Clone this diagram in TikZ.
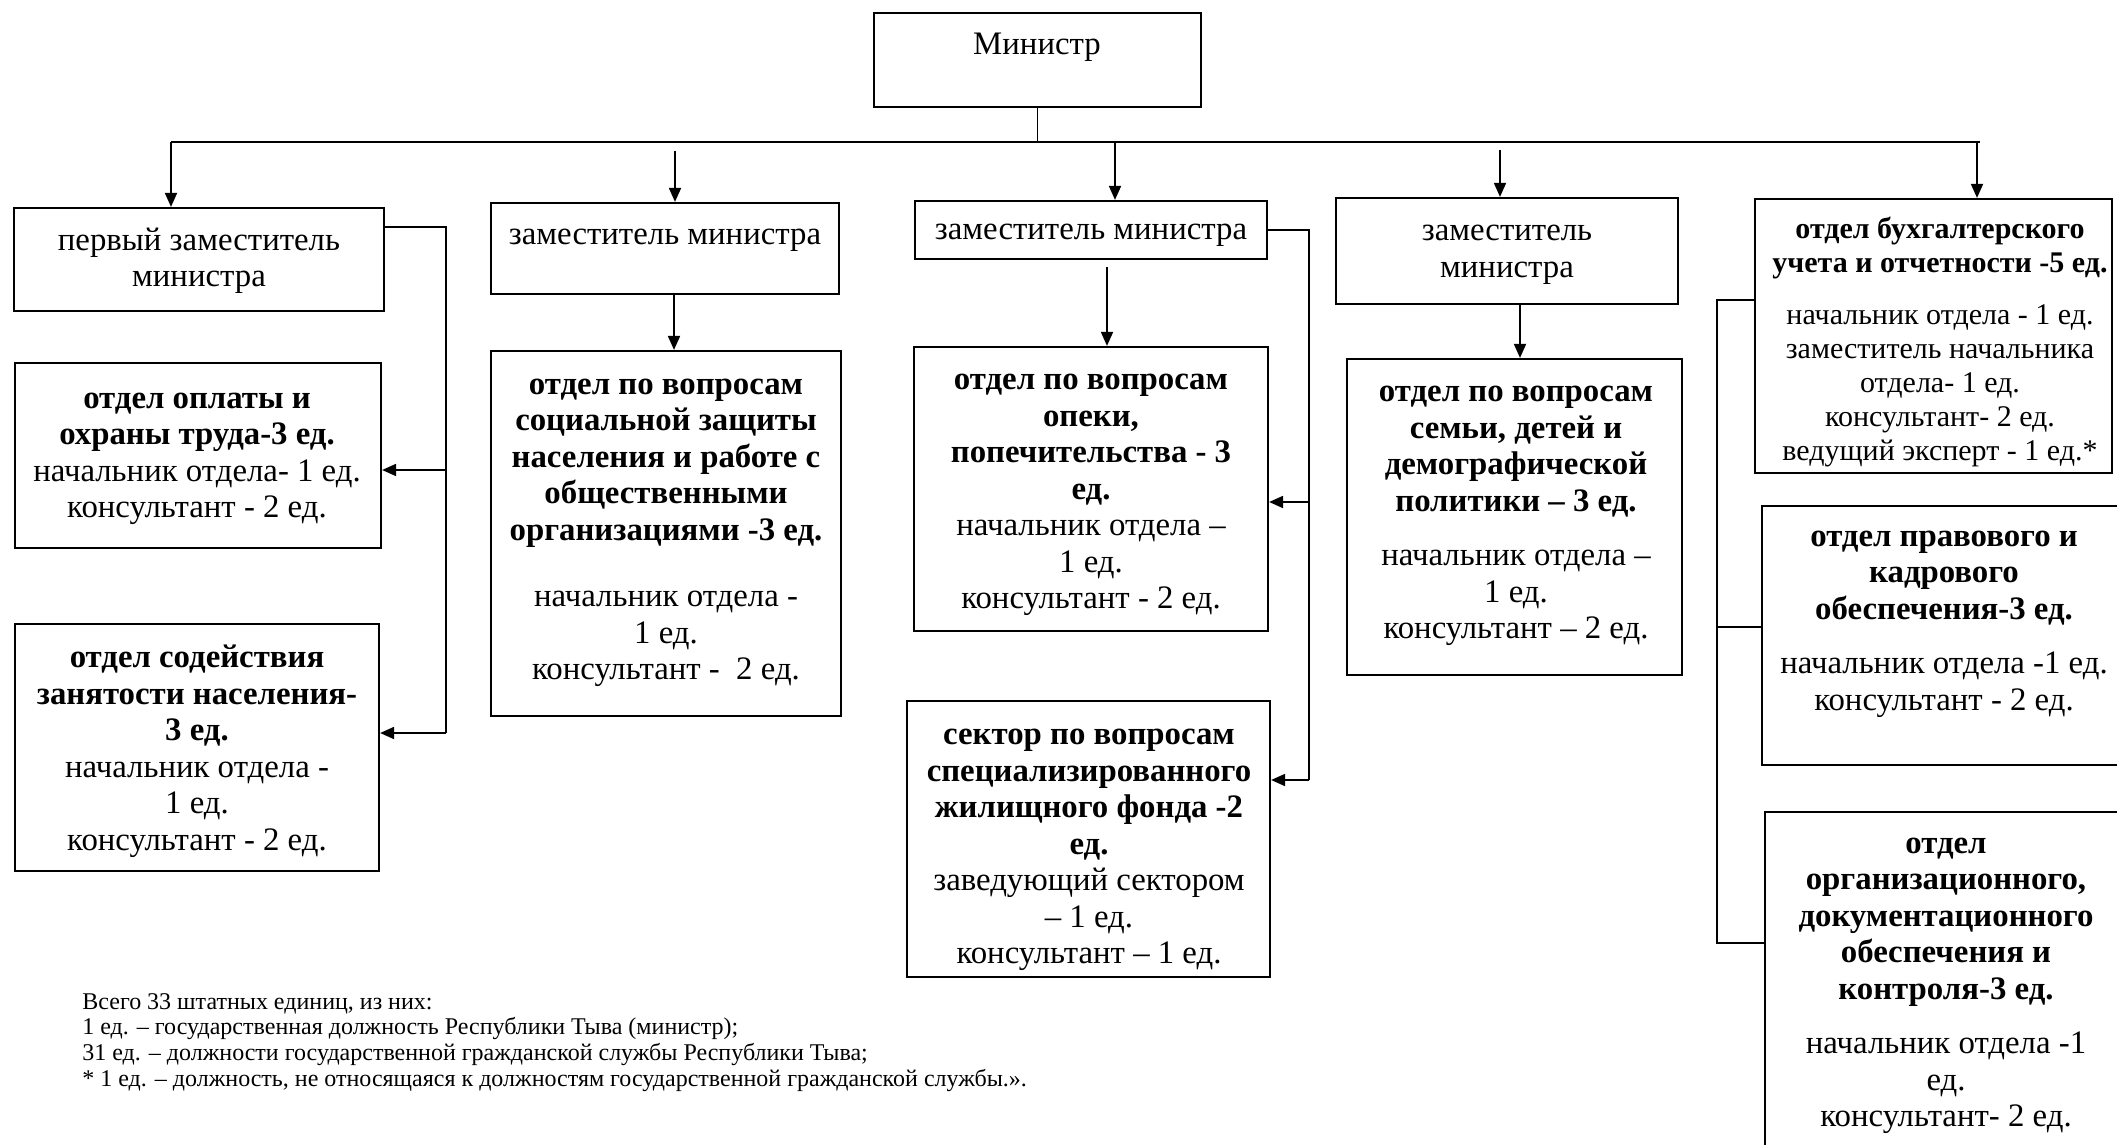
\documentclass[tikz,border=0pt]{standalone}
\usepackage{fontspec}
\setmainfont{Liberation Serif}
\usetikzlibrary{arrows.meta,fit}
\tikzset{
 box/.style={draw, line width=1.1pt, inner sep=0pt, rectangle},
 lt/.style={font=\fontsize{16.4pt}{18.25pt}\selectfont, align=center, inner sep=0pt},
 rt/.style={font=\fontsize{15pt}{17pt}\selectfont, align=center, inner sep=0pt},
 fn/.style={font=\fontsize{12pt}{12.8pt}\selectfont, anchor=base west, inner sep=0pt},
 conn/.style={line width=0.9pt},
 arr/.style={conn, -{Triangle[length=7pt,width=6pt]}},
}
\begin{document}
\begin{tikzpicture}[x=0.5pt,y=-0.5pt]
\useasboundingbox (0,0) rectangle (2117,1145);
% boxes
\node[box, fit={(874,13) (1201,107)}] (min) {};
\node[box, fit={(14,208) (384,311)}] (b1) {};
\node[box, fit={(491,203) (839,294)}] (b2) {};
\node[box, fit={(915,201) (1267,259)}] (b3) {};
\node[box, fit={(1336,198) (1678,304)}] (b4) {};
\node[box, fit={(1755,199) (2112,473)}] (b5) {};
\node[box, fit={(15,363) (381,548)}] (b6) {};
\node[box, fit={(15,624) (379,871)}] (b7) {};
\node[box, fit={(491,351) (841,716)}] (b8) {};
\node[box, fit={(914,347) (1268,631)}] (b9) {};
\node[box, fit={(907,701) (1270,977)}] (b10) {};
\node[box, fit={(1347,359) (1682,675)}] (b11) {};
\node[box, fit={(1762,506) (2127,765)}] (b12) {};
\node[box, fit={(1765,812) (2127,1160)}] (b13) {};
% texts
\node[lt] (minT) at (1037,47) {Министр};
\node[lt] (b1t) at (199,261) {первый заместитель\\министра};
\node[lt] (b2t) at (665,240) {заместитель министра};
\node[lt] (b3t) at (1091,235) {заместитель министра};
\node[lt] (b4t) at (1507,255) {заместитель\\министра};
\node[rt] (b5t) at (1940,342) {\textbf{отдел бухгалтерского}\\\textbf{учета и отчетности -5 ед.}\\[9pt]начальник отдела - 1 ед.\\заместитель начальника\\отдела- 1 ед.\\консультант- 2 ед.\\ведущий эксперт - 1 ед.*};
\node[lt] (b6t) at (197,459) {\textbf{отдел оплаты и}\\\textbf{охраны труда-3 ед.}\\начальник отдела- 1 ед.\\консультант - 2 ед.};
\node[lt] (b7t) at (197,751) {\textbf{отдел содействия}\\\textbf{занятости населения-}\\\textbf{3 ед.}\\начальник отдела -\\1 ед.\\консультант - 2 ед.};
\node[lt] (b8t) at (666,533) {\textbf{отдел по вопросам}\\\textbf{социальной защиты}\\\textbf{населения и работе с}\\\textbf{общественными}\\\textbf{организациями -3 ед.}\\[15pt]начальник отдела -\\1 ед.\\консультант -\ \ 2 ед.};
\node[lt] (b9t) at (1091,495) {\textbf{отдел по вопросам}\\\textbf{опеки,}\\\textbf{попечительства - 3}\\\textbf{ед.}\\начальник отдела –\\1 ед.\\консультант - 2 ед.};
\node[lt] (b10t) at (1089,850) {\textbf{сектор по вопросам}\\\textbf{специализированного}\\\textbf{жилищного фонда -2}\\\textbf{ед.}\\заведующий сектором\\– 1 ед.\\консультант – 1 ед.};
\node[lt] (b11t) at (1516,516) {\textbf{отдел по вопросам}\\\textbf{семьи, детей и}\\\textbf{демографической}\\\textbf{политики – 3 ед.}\\[9pt]начальник отдела –\\1 ед.\\консультант – 2 ед.};
\node[lt] (b12t) at (1944,624) {\textbf{отдел правового и}\\\textbf{кадрового}\\\textbf{обеспечения-3 ед.}\\[9pt]начальник отдела -1 ед.\\консультант - 2 ед.};
\node[lt] (b13t) at (1946,986) {\textbf{отдел}\\\textbf{организационного,}\\\textbf{документационного}\\\textbf{обеспечения и}\\\textbf{контроля-3 ед.}\\[9pt]начальник отдела -1\\ед.\\консультант- 2 ед.};
% footnote
\node[fn] (fn1) at (82,1009) {Всего 33 штатных единиц, из них:};
\node[fn] (fn2) at (82,1034) {1 ед. – государственная должность Республики Тыва (министр);};
\node[fn] (fn3) at (82,1060) {31 ед. – должности государственной гражданской службы Республики Тыва;};
\node[fn] (fn4) at (82,1086) {* 1 ед. – должность, не относящаяся к должностям государственной гражданской службы.».};
% bus from minister
\coordinate (busL) at (171,142);
\coordinate (busR) at (1980,142);
\draw[conn] (min.south) -- (min.south |- busL);
\draw[conn] (busL) -- (busR);
\draw[arr] (busL) -- (busL |- b1.north);
\coordinate (a2s) at (675,151);
\draw[arr] (a2s) -- (a2s |- b2.north);
\coordinate (a3s) at (1115,142);
\draw[arr] (a3s) -- (a3s |- b3.north);
\coordinate (a4s) at (1500,150);
\draw[arr] (a4s) -- (a4s |- b4.north);
\coordinate (a5s) at (1977,142);
\draw[arr] (a5s) -- (a5s |- b5.north);
% first deputy
\coordinate (j1t) at (446,227);
\coordinate (j1m) at (446,470);
\coordinate (j1b) at (446,733);
\draw[conn] (j1t -| b1.east) -- (j1t) -- (j1b);
\draw[arr] (j1m) -- (j1m -| b6.east);
\draw[arr] (j1b) -- (j1b -| b7.east);
% deputy 2
\coordinate (a8) at (674,0);
\draw[arr] (a8 |- b2.south) -- (a8 |- b8.north);
% deputy 3
\coordinate (j3t) at (1309,230);
\coordinate (j3m) at (1309,502);
\coordinate (j3b) at (1309,780);
\draw[conn] (j3t -| b3.east) -- (j3t) -- (j3b);
\draw[arr] (j3m) -- (j3m -| b9.east);
\draw[arr] (j3b) -- (j3b -| b10.east);
\coordinate (a9) at (1107,267);
\draw[arr] (a9) -- (a9 |- b9.north);
% deputy 4
\coordinate (a11) at (1520,0);
\draw[arr] (a11 |- b4.south) -- (a11 |- b11.north);
% right column
\coordinate (jrt) at (1717,300);
\coordinate (jrm) at (1717,627);
\coordinate (jrb) at (1717,943);
\draw[conn] (jrt -| b5.west) -- (jrt) -- (jrb) -- (jrb -| b13.west);
\draw[conn] (jrm) -- (jrm -| b12.west);
\end{tikzpicture}
\end{document}
